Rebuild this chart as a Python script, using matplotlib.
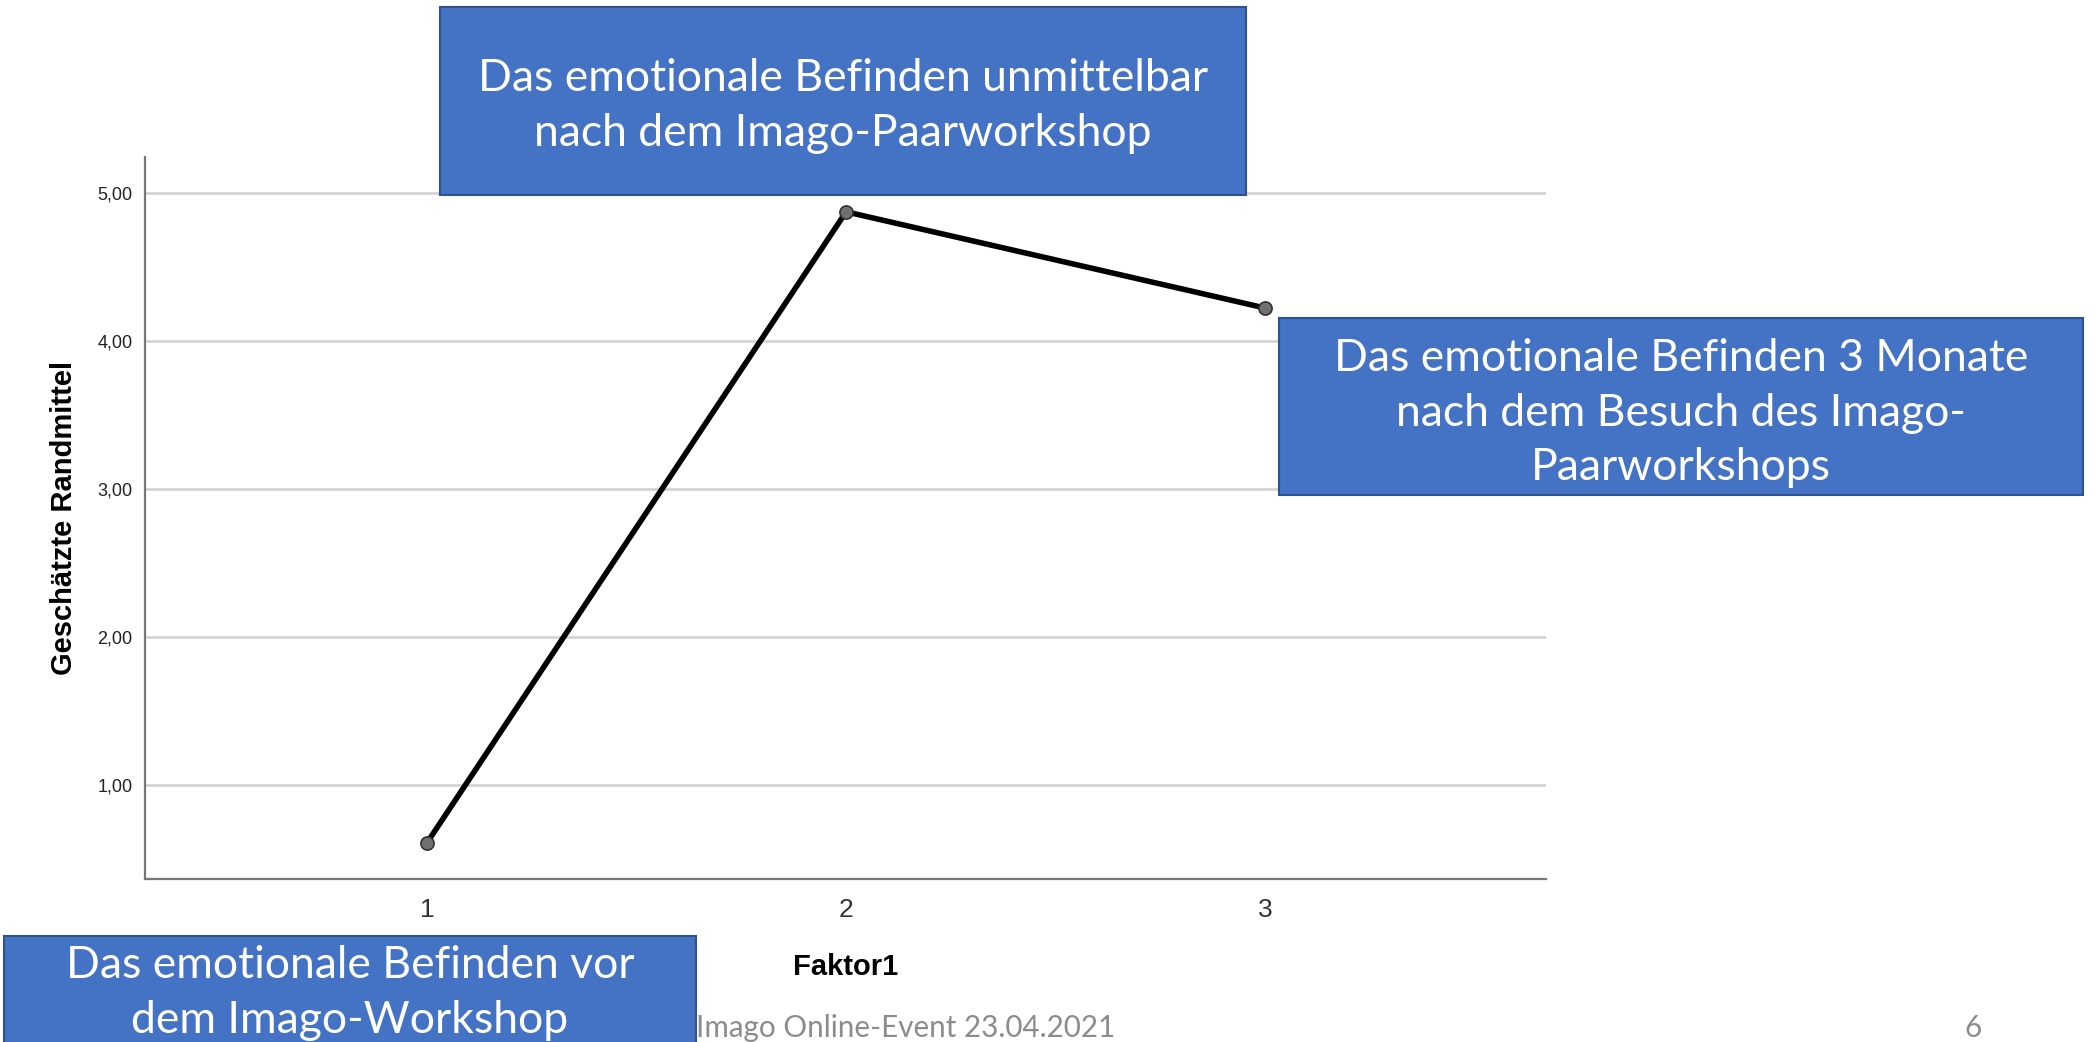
import matplotlib.pyplot as plt
from matplotlib.patches import Rectangle

# data
faktor = [1, 2, 3]
randmittel = [0.61, 4.87, 4.22]
y_ticks = [1, 2, 3, 4, 5]
y_tick_labels = ["1,00", "2,00", "3,00", "4,00", "5,00"]

W, H = 2098, 1042
BLUE = "#4472C4"
BLUE_EDGE = "#2F528F"

fig = plt.figure(figsize=(W / 100, H / 100), dpi=100)
fig.patch.set_facecolor("white")


def px_box(x0, y0, x1, y1):
    # pixel coords (top-left origin) -> figure fraction [left, bottom, w, h]
    return [x0 / W, 1 - y1 / H, (x1 - x0) / W, (y1 - y0) / H]


ax = fig.add_axes(px_box(145, 157, 1546, 879))
ax.set_xlim(0.327, 3.67)
ax.set_ylim(0.365, 5.24)

ax.set_yticks(y_ticks)
ax.set_yticklabels(y_tick_labels, fontsize=13, family="Liberation Sans", color="#222222")
ax.set_xticks(faktor)
ax.set_xticklabels([str(f) for f in faktor], fontsize=19, family="Liberation Sans", color="#333333")
ax.tick_params(axis="both", length=0)
ax.tick_params(axis="y", pad=9)
ax.tick_params(axis="x", pad=14)

ax.grid(axis="y", color="#d4d4d4", linewidth=2)
ax.set_axisbelow(True)
for side in ["top", "right"]:
    ax.spines[side].set_visible(False)
for side in ["left", "bottom"]:
    ax.spines[side].set_color("#777777")
    ax.spines[side].set_linewidth(1.6)

ax.plot(faktor, randmittel, color="black", linewidth=4, zorder=3)
ax.scatter(faktor, randmittel, s=90, color="#707070", edgecolor="#333333", linewidth=1.2, zorder=4)

ax.set_ylabel("Geschätzte Randmittel", fontsize=21, fontweight="bold", family="Liberation Sans", labelpad=14)
ax.set_xlabel("Faktor1", fontsize=21, fontweight="bold", family="Liberation Sans", labelpad=22)

# annotation boxes
boxes = [
    ((440, 7, 1246, 195), "Das emotionale Befinden unmittelbar\nnach dem Imago-Paarworkshop", (843, 106)),
    ((1279, 318, 2083, 495), "Das emotionale Befinden 3 Monate\nnach dem Besuch des Imago-\nPaarworkshops", (1681, 413)),
    ((4, 936, 696, 1080), "Das emotionale Befinden vor\ndem Imago-Workshop", (350, 993)),
]
for (x0, y0, x1, y1), label, (tx, ty) in boxes:
    l, b, w, h = px_box(x0, y0, x1, y1)
    fig.patches.append(Rectangle((l, b), w, h, transform=fig.transFigure,
                                 facecolor=BLUE, edgecolor=BLUE_EDGE, linewidth=1.5, zorder=5))
    fig.text(tx / W, 1 - ty / H, label, ha="center", va="center", color="white",
             fontsize=32, family="Lato", linespacing=1.42, zorder=6)

fig.text(696 / W, 1 - 1028 / H, "Imago Online-Event 23.04.2021", ha="left", va="center",
         color="#8c8c8c", fontsize=21.3, family="Lato", zorder=4)
fig.text(1973 / W, 1 - 1028 / H, "6", ha="center", va="center",
         color="#8c8c8c", fontsize=21.3, family="Lato")

fig.savefig("out.png", dpi=100)
